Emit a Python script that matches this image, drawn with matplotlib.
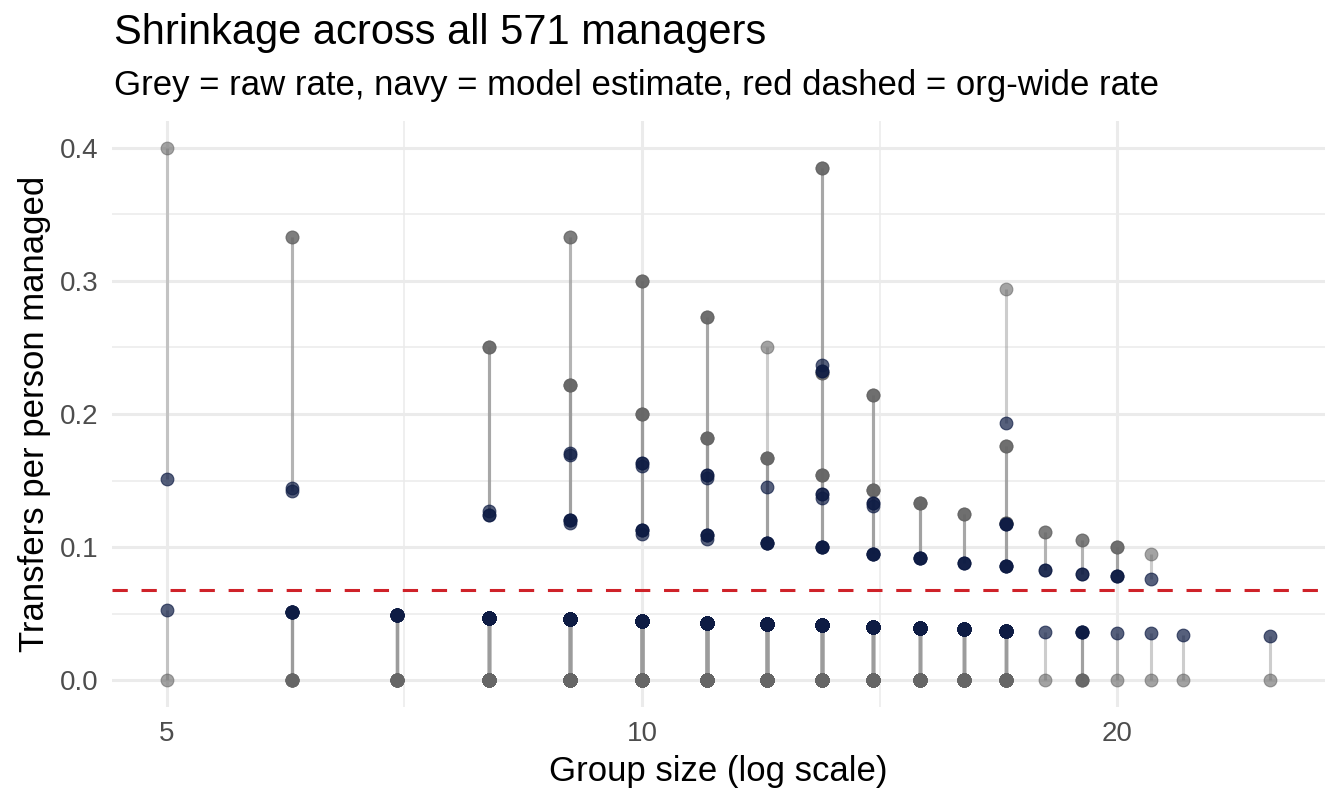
import numpy as np
import matplotlib
matplotlib.use("Agg")
import matplotlib.pyplot as plt
from matplotlib.ticker import FixedLocator, NullFormatter

plt.rcParams['font.family'] = ['Liberation Sans', 'DejaVu Sans']

# One row per distinct (group size, raw rate, model estimate); n_mgr = how many managers share it
group_size = [5, 5,
              6, 6, 6,
              7,
              8, 8, 8,
              9, 9, 9, 9, 9,
              10, 10, 10, 10, 10,
              11, 11, 11, 11, 11,
              12, 12, 12,
              13, 13, 13, 13, 13, 13,
              14, 14, 14, 14,
              15, 15,
              16, 16,
              17, 17, 17, 17,
              18, 18,
              19, 19,
              20, 20,
              21, 21,
              22,
              25]
raw_rate = [0.400, 0.0,
            0.333, 0.333, 0.0,
            0.0,
            0.250, 0.250, 0.0,
            0.333, 0.333, 0.222, 0.222, 0.0,
            0.300, 0.300, 0.200, 0.200, 0.0,
            0.273, 0.273, 0.182, 0.182, 0.0,
            0.250, 0.167, 0.0,
            0.385, 0.385, 0.231, 0.231, 0.154, 0.0,
            0.214, 0.214, 0.143, 0.0,
            0.133, 0.0,
            0.125, 0.0,
            0.294, 0.176, 0.118, 0.0,
            0.111, 0.0,
            0.105, 0.0,
            0.100, 0.0,
            0.095, 0.0,
            0.0,
            0.0]
est_rate = [0.151, 0.053,
            0.144, 0.142, 0.051,
            0.049,
            0.127, 0.124, 0.047,
            0.171, 0.169, 0.120, 0.118, 0.046,
            0.163, 0.161, 0.113, 0.110, 0.044,
            0.154, 0.152, 0.109, 0.106, 0.043,
            0.145, 0.103, 0.042,
            0.237, 0.232, 0.140, 0.137, 0.100, 0.041,
            0.133, 0.131, 0.095, 0.040,
            0.092, 0.039,
            0.088, 0.038,
            0.193, 0.117, 0.086, 0.037,
            0.083, 0.036,
            0.080, 0.036,
            0.0785, 0.035,
            0.076, 0.035,
            0.0335,
            0.033]
n_mgr = [1, 1,
         1, 1, 8,
         15,
         1, 2, 40,
         1, 1, 3, 1, 52,
         2, 1, 3, 1, 65,
         2, 1, 3, 1, 65,
         1, 4, 60,
         1, 2, 2, 1, 4, 55,
         2, 1, 4, 40,
         4, 35,
         3, 30,
         1, 3, 4, 25,
         2, 1,
         2, 4,
         3, 1,
         1, 1,
         1,
         1]
org_rate = 0.068

# expand to one entry per manager so overlapping points stack like the original
size = np.repeat(group_size, n_mgr)
raw = np.repeat(raw_rate, n_mgr)
est = np.repeat(est_rate, n_mgr)

fig = plt.figure(figsize=(6.72, 4.03), dpi=200)
ax = fig.add_axes([0.0833, 0.1233, 0.9026, 0.7261])

ax.vlines(size, raw, est, color='#9c9c9c', alpha=0.5, lw=1.1, zorder=2)
ax.scatter(size, raw, s=21, color='#666666', alpha=0.6, lw=0.4, zorder=3)
ax.scatter(size, est, s=21, color='#0e1c44', alpha=0.7, lw=0.4, zorder=4)
ax.axhline(org_rate, color='#cf2229', lw=1.1, dashes=(5, 4.5), zorder=5)

ax.set_xscale('log')
ax.set_xlim(5 / 1.0832, 25 * 1.0832)
ax.set_ylim(-0.02, 0.42)

ax.xaxis.set_major_locator(FixedLocator([5, 10, 20]))
ax.xaxis.set_minor_locator(FixedLocator([50 ** 0.5, 200 ** 0.5]))
ax.xaxis.set_major_formatter(matplotlib.ticker.FixedFormatter(['5', '10', '20']))
ax.xaxis.set_minor_formatter(NullFormatter())
ax.yaxis.set_major_locator(FixedLocator([0, 0.1, 0.2, 0.3, 0.4]))
ax.yaxis.set_minor_locator(FixedLocator([0.05, 0.15, 0.25, 0.35]))
ax.set_yticklabels(['0.0', '0.1', '0.2', '0.3', '0.4'])

ax.grid(True, which='major', color='#ebebeb', lw=1.1, zorder=0)
ax.grid(True, which='minor', color='#ebebeb', lw=0.55, zorder=0)
ax.set_axisbelow(True)
for s in ax.spines.values():
    s.set_visible(False)
ax.tick_params(which='both', length=0, labelsize=10, labelcolor='#4d4d4d', pad=5)

ax.set_xlabel('Group size (log scale)', fontsize=12.5, labelpad=3)
ax.set_ylabel('Transfers per person managed', fontsize=12.5, labelpad=3)

fig.text(0.0848, 0.945, 'Shrinkage across all 571 managers', fontsize=15, va='baseline')
fig.text(0.0848, 0.882, 'Grey = raw rate, navy = model estimate, red dashed = org-wide rate',
         fontsize=12.5, va='baseline')

fig.savefig('out.png', dpi=200, facecolor='white')
